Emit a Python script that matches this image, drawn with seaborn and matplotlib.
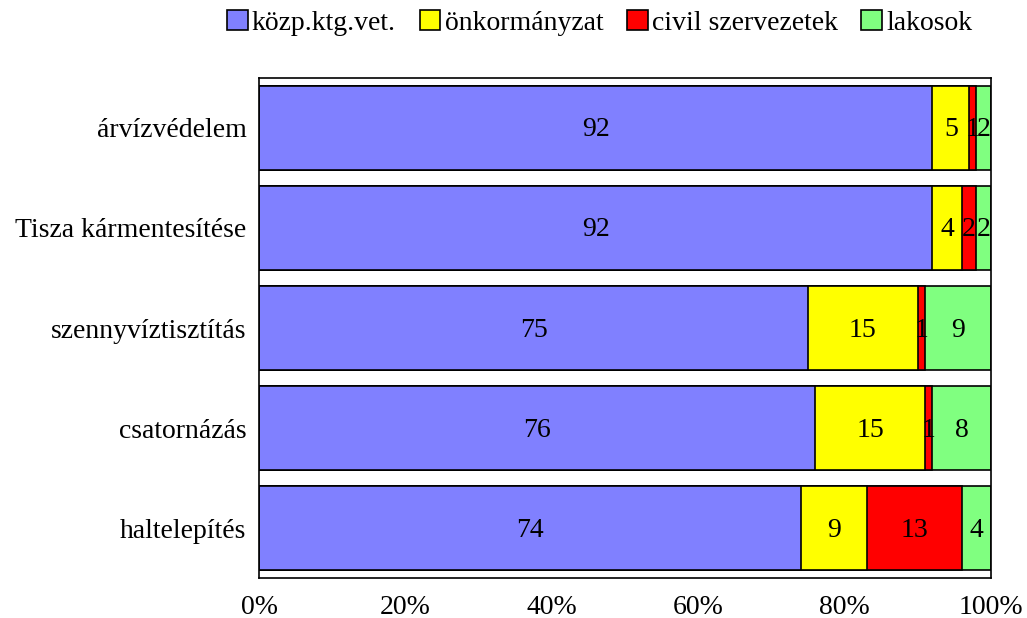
import numpy as np
import pandas as pd
import matplotlib
matplotlib.use("Agg")
import matplotlib.pyplot as plt
import seaborn as sns
from matplotlib.patches import Patch

# Data
categories = ['árvízvédelem', 'Tisza kármentesítése', 'szennyvíztisztítás',
              'csatornázás', 'haltelepítés']
series_names = ['közp.ktg.vet.', 'önkormányzat', 'civil szervezetek', 'lakosok']
kozp = [92, 92, 75, 76, 74]
onkorm = [5, 4, 15, 15, 9]
civil = [1, 2, 1, 1, 13]
lakos = [2, 2, 9, 8, 4]
colors = ['#8080FF', '#FFFF00', '#FF0000', '#80FF80']
xticks = [0, 20, 40, 60, 80, 100]

df = pd.DataFrame({'cat': categories, series_names[0]: kozp, series_names[1]: onkorm,
                   series_names[2]: civil, series_names[3]: lakos})
cum = df[series_names].cumsum(axis=1)

sns.set_theme(style="white")
plt.rcParams['font.family'] = ['Liberation Serif', 'DejaVu Serif']
plt.rcParams['text.color'] = 'black'

fig = plt.figure(figsize=(10.27, 6.18), dpi=100)
ax = fig.add_axes([0.2522, 0.0647, 0.965 - 0.2522, 0.8738 - 0.0647])

# draw stacked bars as layered cumulative bars, widest first
for name, col in reversed(list(zip(series_names, colors))):
    sns.barplot(x=cum[name], y=df['cat'], orient='h', color=col, width=0.84,
                edgecolor='black', linewidth=1.2, saturation=1, ax=ax)

# segment labels
for i in range(len(categories)):
    left = 0
    for name in series_names:
        v = df.loc[i, name]
        ax.text(left + v / 2, i + 0.02, str(v), ha='center', va='center',
                fontsize=20, color='black')
        left += v

ax.set_xlim(0, 100)
ax.set_ylim(4.5, -0.5)
ax.set_xticks(xticks)
ax.set_xticklabels([f'{t}%' for t in xticks])
ax.set_xlabel('')
ax.set_ylabel('')
ax.tick_params(axis='both', length=0, labelsize=20, colors='black')
ax.tick_params(axis='x', pad=12)
ax.tick_params(axis='y', pad=9)
for s in ax.spines.values():
    s.set_visible(True)
    s.set_color('black')
    s.set_linewidth(1.2)

handles = [Patch(facecolor=c, edgecolor='black', linewidth=1.2) for c in colors]
fig.legend(handles, series_names, loc='center', bbox_to_anchor=(0.584, 1 - 23 / 618),
           ncol=4, frameon=False, fontsize=20, handlelength=0.75, handleheight=0.75,
           handletextpad=0.15, columnspacing=0.85, borderaxespad=0)

fig.savefig('out.png', dpi=100)
